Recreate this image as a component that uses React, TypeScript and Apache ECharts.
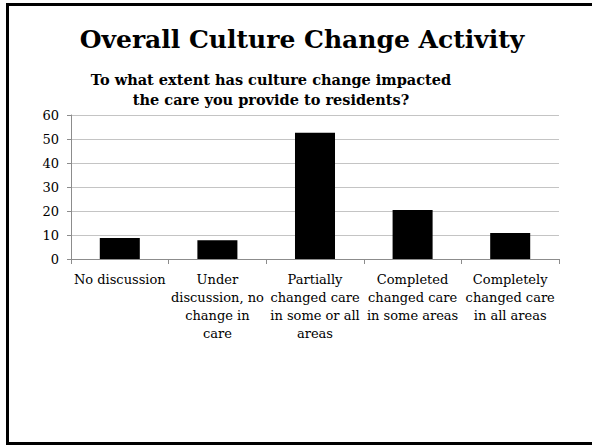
import React, { useEffect, useRef } from "react";
import * as echarts from "echarts";

const categories = [
  "No discussion",
  "Under\ndiscussion, no\nchange in\ncare",
  "Partially\nchanged care\nin some or all\nareas",
  "Completed\nchanged care\nin some areas",
  "Completely\nchanged care\nin all areas",
];
const values = [8.7, 7.8, 52.6, 20.4, 10.8];
const titleText = "Overall Culture Change Activity";
const subtitleText = "To what extent has culture change impacted\nthe care you provide to residents?";

const FONT = "'DejaVu Serif', 'Liberation Serif', serif";

export default function App() {
  const ref = useRef<HTMLDivElement>(null);
  useEffect(() => {
    document.body.style.margin = "0";
    const chart = echarts.init(ref.current!, null, { renderer: "svg" });
    chart.setOption({
      animation: false,
      backgroundColor: "#ffffff",
      title: [
        {
          text: titleText,
          left: 297,
          top: 22,
          textAlign: "center",
          textStyle: { fontFamily: FONT, fontSize: 25, fontWeight: "bold", color: "#000" },
        },
        {
          text: subtitleText,
          left: 266,
          top: 64,
          textAlign: "center",
          textStyle: { fontFamily: FONT, fontSize: 14.5, fontWeight: "bold", color: "#000", lineHeight: 20 },
        },
      ],
      graphic: [
        {
          type: "rect",
          shape: { x: 7.5, y: 4.5, width: 600, height: 439 },
          style: { fill: "none", stroke: "#000", lineWidth: 3 },
          silent: true,
        },
      ],
      grid: { left: 71, right: 33, top: 115, bottom: 186, containLabel: false },
      xAxis: {
        type: "category",
        data: categories,
        axisLine: { lineStyle: { color: "#8c8c8c" } },
        axisTick: { show: true, length: 5, lineStyle: { color: "#8c8c8c" } },
        axisLabel: {
          interval: 0,
          margin: 11,
          fontFamily: FONT,
          fontSize: 13,
          color: "#000",
          lineHeight: 18,
        },
      },
      yAxis: {
        type: "value",
        min: 0,
        max: 60,
        interval: 10,
        axisLine: { show: true, lineStyle: { color: "#8c8c8c" } },
        axisTick: { show: true, length: 4, lineStyle: { color: "#8c8c8c" } },
        splitLine: { lineStyle: { color: "#c4c4c4" } },
        axisLabel: { fontFamily: FONT, fontSize: 13, color: "#000", margin: 12 },
      },
      series: [
        {
          type: "bar",
          data: values,
          barWidth: "41%",
          itemStyle: { color: "#000" },
        },
      ],
    });
    return () => chart.dispose();
  }, []);
  return <div ref={ref} style={{ width: 592, height: 445, position: "absolute", left: 0, top: 0 }} />;
}
